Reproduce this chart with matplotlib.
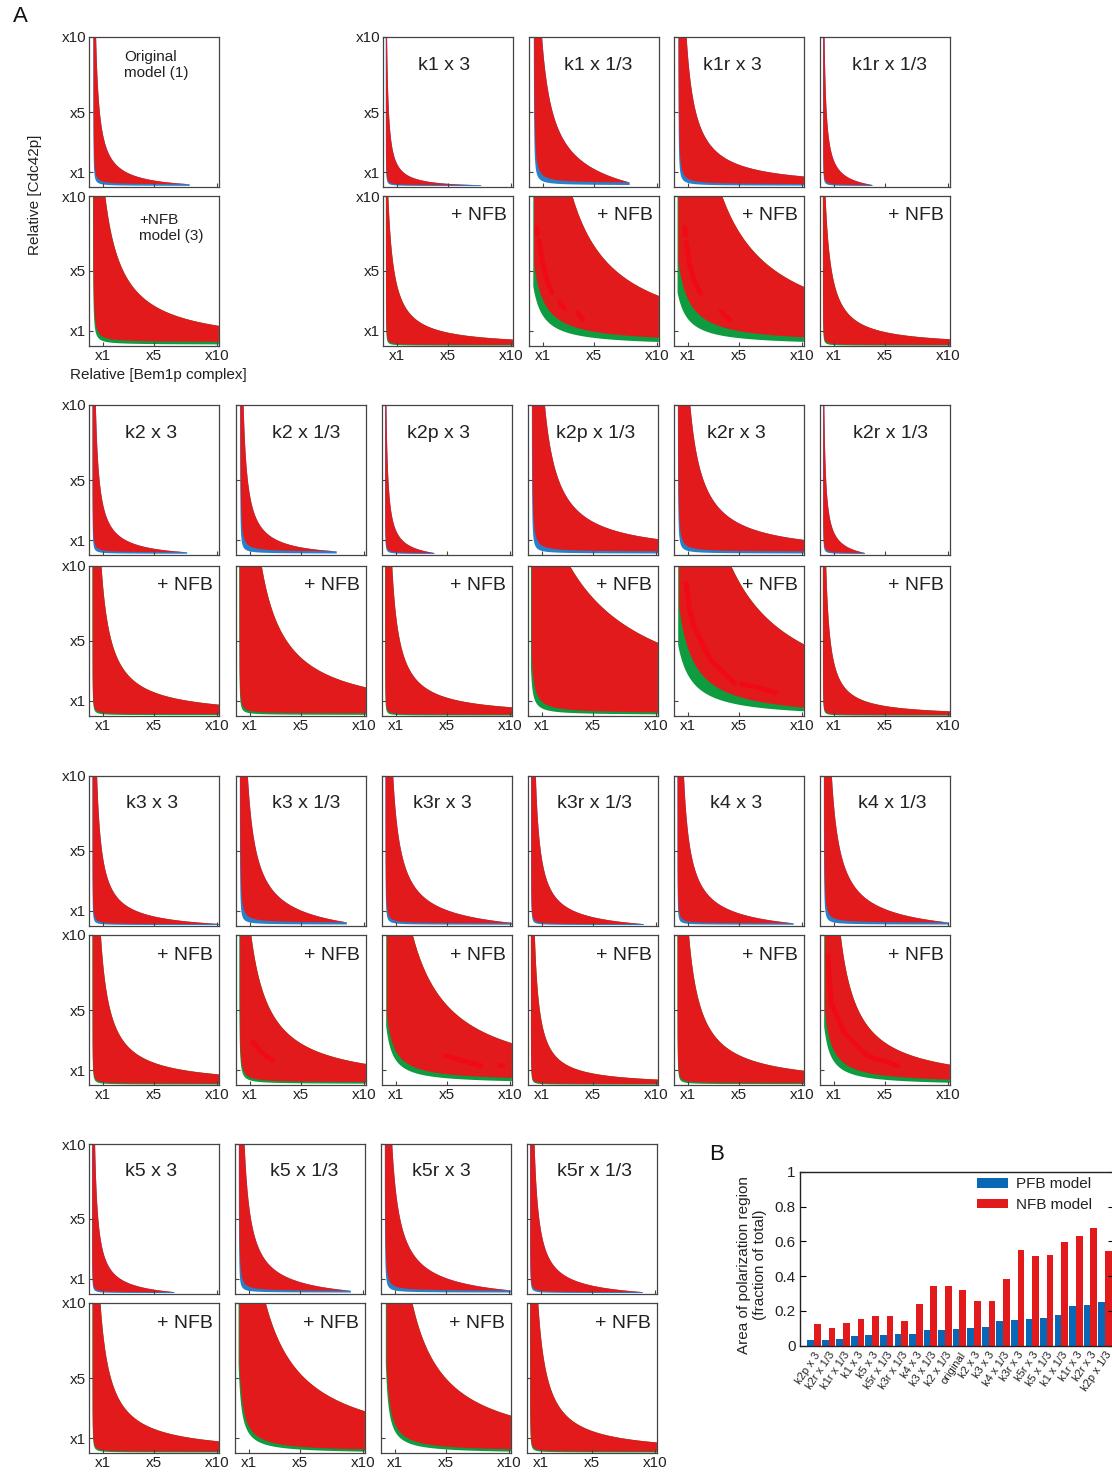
import numpy as np
import matplotlib
matplotlib.use("Agg")
import matplotlib.pyplot as plt

plt.rcParams['font.family'] = ['Liberation Sans', 'DejaVu Sans']

# ---------------- data ----------------
variants = ["original", "k1 x 3", "k1 x 1/3", "k1r x 3", "k1r x 1/3",
            "k2 x 3", "k2 x 1/3", "k2p x 3", "k2p x 1/3", "k2r x 3", "k2r x 1/3",
            "k3 x 3", "k3 x 1/3", "k3r x 3", "k3r x 1/3", "k4 x 3", "k4 x 1/3",
            "k5 x 3", "k5 x 1/3", "k5r x 3", "k5r x 1/3"]

# PFB (positive feedback) polarization regions: left edge, upper hyperbola, tail end, lower edge, blue band
pfb_x0 = [0.22, 0.10, 0.25, 0.22, 0.12, 0.15, 0.20, 0.12, 0.18, 0.18, 0.12,
          0.15, 0.18, 0.15, 0.12, 0.15, 0.18, 0.12, 0.18, 0.18, 0.12]
pfb_xu = [0.12, 0.03, 0.00, 0.12, 0.05, 0.10, 0.12, 0.05, 0.10, 0.10, 0.05,
          0.10, 0.10, 0.10, 0.08, 0.10, 0.10, 0.08, 0.10, 0.10, 0.08]
pfb_ku = [3.0, 1.5, 9.0, 7.4, 1.7, 3.0, 3.4, 1.6, 11.0, 10.5, 1.5,
          4.0, 7.0, 6.5, 4.0, 5.5, 7.0, 2.6, 5.2, 6.5, 3.8]
pfb_xe = [7.8, 7.6, 7.8, 99, 4.0, 7.6, 7.8, 4.0, 99, 99, 3.4,
          10.3, 8.6, 10.4, 9.0, 9.3, 10.0, 6.6, 9.0, 10.2, 9.0]
pfb_lo = [0.20, 0.15, 0.28, 0.20, 0.15, 0.20, 0.24, 0.15, 0.24, 0.24, 0.15,
          0.15, 0.24, 0.20, 0.15, 0.20, 0.24, 0.15, 0.22, 0.24, 0.15]
pfb_kl = [0.15, 0.06, 0.40, 0.30, 0.06, 0.12, 0.30, 0.06, 0.35, 0.30, 0.06,
          0.10, 0.30, 0.15, 0.08, 0.12, 0.25, 0.06, 0.25, 0.25, 0.08]
pfb_d = [0.03] * 21
pfb_blo = [0.10, 0.09, 0.14, 0.11, 0.09, 0.11, 0.12, 0.09, 0.12, 0.12, 0.09,
           0.09, 0.12, 0.11, 0.09, 0.11, 0.12, 0.09, 0.12, 0.12, 0.09]
pfb_bk = [0.08, 0.04, 0.20, 0.15, 0.04, 0.06, 0.12, 0.04, 0.15, 0.15, 0.04,
          0.05, 0.12, 0.08, 0.05, 0.06, 0.12, 0.04, 0.10, 0.12, 0.05]

# NFB (+ negative feedback) regions, green band
nfb_x0 = [0.20, 0.10, 0.26, 0.20, 0.10, 0.15, 0.15, 0.12, 0.15, 0.25, 0.10,
          0.15, 0.18, 0.25, 0.10, 0.15, 0.25, 0.15, 0.20, 0.30, 0.12]
nfb_xu = [-0.29, -0.2, -0.2, -0.62, -0.2, 0.05, -0.1, 0.05, -3.6, -0.98, 0.0,
          0.05, -0.46, -0.8, 0.0, 0.05, 0.1, -0.06, -0.8, -0.3, 0.0]
nfb_ku = [14.4, 4.8, 35.0, 43.0, 5.0, 8.0, 20.0, 6.2, 68.0, 53.8, 3.5,
          7.5, 15.3, 31.0, 4.0, 10.0, 14.0, 8.3, 31.0, 26.5, 7.5]
nfb_xe = [99] * 21
nfb_lo = [0.28, 0.10, 0.16, 0.15, 0.10, 0.15, 0.20, 0.12, 0.20, -0.23, 0.10,
          0.12, 0.20, 0.25, 0.10, 0.15, 0.11, 0.12, 0.09, 0.10, 0.12]
nfb_kl = [0.30, 0.06, 4.6, 5.0, 0.06, 0.08, 0.15, 0.06, 0.8, 9.14, 0.05,
          0.08, 0.30, 2.67, 0.05, 0.10, 2.91, 0.08, 1.83, 1.80, 0.08]
nfb_d = [0.05, 0.02, 0.86, 0.90, 0.02, 0.03, 0.05, 0.02, 0.20, 1.20, 0.02,
         0.03, 0.10, 0.60, 0.02, 0.03, 0.60, 0.03, 0.30, 0.30, 0.03]
nfb_blo = [0.12, 0.05, 0.00, 0.03, 0.05, 0.08, 0.10, 0.06, 0.10, -0.16, 0.05,
           0.06, 0.10, 0.09, 0.05, 0.08, -0.02, 0.06, -0.02, -0.02, 0.06]
nfb_bk = [0.20, 0.04, 3.2, 3.0, 0.04, 0.06, 0.10, 0.04, 0.45, 5.6, 0.04,
          0.06, 0.22, 2.09, 0.04, 0.07, 2.13, 0.06, 1.45, 1.45, 0.06]

# bright red traces inside some NFB regions: (variant, [(xs, ys), ...])
nfb_traces = {
    "k1 x 1/3": [([0.52, 0.56], [7.9, 7.5]),
                 ([0.70, 0.95, 1.35, 1.70], [7.0, 5.6, 4.3, 3.6]),
                 ([2.30, 2.70], [2.9, 2.5]),
                 ([3.75, 4.15], [2.2, 1.75])],
    "k1r x 3": [([0.75, 0.80], [7.9, 7.4]),
                ([0.85, 1.10, 1.50, 2.00], [6.9, 5.5, 4.3, 3.5]),
                ([3.60, 4.30], [2.3, 1.75])],
    "k2r x 3": [([0.85, 1.10, 1.48, 2.77, 4.69], [8.85, 7.2, 5.95, 3.73, 2.18]),
                ([5.2, 6.5, 7.9], [2.13, 1.9, 1.55])],
    "k3 x 1/3": [([1.24, 2.0, 2.77], [2.84, 2.1, 1.62])],
    "k3r x 3": [([4.9, 7.7], [1.95, 1.29]),
                ([9.2, 9.4], [1.30, 1.28])],
    "k4 x 1/3": [([0.52, 0.77, 1.79, 3.59, 6.02], [8.62, 5.5, 3.5, 1.95, 1.29])],
}

pfb_titles = ["Original\nmodel (1)"] + variants[1:]
nfb_titles = ["+NFB\nmodel (3)"] + ["+ NFB"] * 20
tick_vals = [1, 5, 10]
tick_text = ["x1", "x5", "x10"]

# panel B
bar_labels = ["k2p x 3", "k2r x 1/3", "k1r x 1/3", "k1 x 3", "k5 x 3", "k5r x 1/3",
              "k3r x 1/3", "k4 x 3", "k3 x 1/3", "k2 x 1/3", "original", "k2 x 3",
              "k3 x 3", "k4 x 1/3", "k3r x 3", "k5r x 3", "k5 x 1/3", "k1 x 1/3",
              "k1r x 3", "k2r x 3", "k2p x 1/3"]
pfb_area = [0.033, 0.033, 0.038, 0.057, 0.061, 0.063, 0.065, 0.067, 0.088, 0.090, 0.098,
            0.103, 0.105, 0.144, 0.148, 0.151, 0.159, 0.174, 0.226, 0.234, 0.249]
nfb_area = [0.125, 0.102, 0.130, 0.153, 0.170, 0.170, 0.142, 0.239, 0.343, 0.343, 0.320,
            0.257, 0.257, 0.383, 0.550, 0.515, 0.521, 0.596, 0.630, 0.676, 0.544]

# ---------------- style ----------------
RED = '#e31a1c'
TRACE = '#ef0a16'
BLUE = '#2a7fc9'
GREEN = '#0f9b3f'
BAR_BLUE = '#0868b5'
TXT = '#222222'
SPINE = '#444444'

W, H = 1112, 1473
fig = plt.figure(figsize=(W / 100, H / 100), dpi=100)


def ax_at(l, t, w, h):
    return fig.add_axes([l / W, 1 - (t + h) / H, w / W, h / H])


def draw_region(ax, x0, xu, ku, xe, lo, kl, d, blo, bk, band_color):
    xend = min(xe, 10.1)
    xb = np.linspace(x0 - 0.06, xend, 2000)
    U0 = ku / np.maximum(xb - xu, 1e-3)
    L = lo + kl / np.maximum(xb - x0 + d, 1e-3)
    t = np.clip((xb - x0) / (xe - x0), 0, 1)
    U = L + (U0 - L) * (1 - t ** 2)
    U = np.where(xb < x0, 12.0, U)
    U = np.minimum(U, 12.0)
    Lb = blo + bk / np.maximum(xb - x0 + d, 1e-3)
    Lb = np.minimum(Lb, 12.0)
    ax.fill_between(xb, Lb, U, where=U > Lb, color=band_color, lw=0, interpolate=True)
    m = xb >= x0
    ax.fill_between(xb[m], np.minimum(L[m], 12), U[m], where=U[m] > L[m],
                    color=RED, lw=0, interpolate=True)


def style_axes(ax, ylabels, xlabels):
    ax.set_xlim(-0.1, 10.15)
    ax.set_ylim(0, 10)
    ax.set_xticks(tick_vals)
    ax.set_yticks(tick_vals)
    ax.set_xticklabels(tick_text if xlabels else [])
    ax.set_yticklabels(tick_text if ylabels else [])
    ax.tick_params(direction='in', length=3, width=0.8, color=SPINE,
                   labelsize=11, labelcolor=TXT, pad=2)
    for s in ax.spines.values():
        s.set_color(SPINE)
        s.set_linewidth(0.9)


blocks = [
    dict(tops=(37, 196), lefts=[89, 383, 529, 674, 820], idx=[0, 1, 2, 3, 4], ycols=[0, 1],
         toff=[35, 35, 35, 29, 32]),
    dict(tops=(405, 566), lefts=[89, 236, 382, 528, 674, 820], idx=[5, 6, 7, 8, 9, 10], ycols=[0],
         toff=[36, 36, 25, 28, 33, 33]),
    dict(tops=(776, 935), lefts=[89, 236, 382, 528, 674, 820], idx=[11, 12, 13, 14, 15, 16], ycols=[0],
         toff=[37, 36, 31, 29, 36, 38]),
    dict(tops=(1144, 1303), lefts=[89, 235, 381, 527], idx=[17, 18, 19, 20], ycols=[0],
         toff=[36, 35, 31, 30]),
]
PW, PH = 130, 150

for b in blocks:
    for c, (lft, vi) in enumerate(zip(b['lefts'], b['idx'])):
        # PFB panel
        ax = ax_at(lft, b['tops'][0], PW, PH)
        draw_region(ax, pfb_x0[vi], pfb_xu[vi], pfb_ku[vi], pfb_xe[vi], pfb_lo[vi],
                    pfb_kl[vi], pfb_d[vi], pfb_blo[vi], pfb_bk[vi], BLUE)
        style_axes(ax, c in b['ycols'], False)
        if vi == 0:
            fig.text((lft + 35) / W, 1 - 65 / H, pfb_titles[vi], fontsize=11, color=TXT,
                     ha='left', va='center', linespacing=1.2)
        else:
            fig.text((lft + b['toff'][c]) / W, 1 - (b['tops'][0] + 28) / H, pfb_titles[vi],
                     fontsize=14, color=TXT, ha='left', va='center')
        # NFB panel
        ax = ax_at(lft, b['tops'][1], PW, PH)
        draw_region(ax, nfb_x0[vi], nfb_xu[vi], nfb_ku[vi], nfb_xe[vi], nfb_lo[vi],
                    nfb_kl[vi], nfb_d[vi], nfb_blo[vi], nfb_bk[vi], GREEN)
        for xs, ys in nfb_traces.get(variants[vi], []):
            ax.plot(xs, ys, color=TRACE, lw=3.6, solid_capstyle='round')
        style_axes(ax, c in b['ycols'], True)
        if vi == 0:
            fig.text((lft + 50) / W, 1 - 228 / H, nfb_titles[vi], fontsize=11, color=TXT,
                     ha='left', va='center', linespacing=1.2)
        else:
            fig.text((lft + PW - 6) / W, 1 - (b['tops'][1] + 20) / H, nfb_titles[vi],
                     fontsize=14, color=TXT, ha='right', va='center')

fig.text(35 / W, 1 - 195 / H, "Relative [Cdc42p]", rotation=90, fontsize=11,
         color=TXT, ha='center', va='center')
fig.text(158 / W, 1 - 375 / H, "Relative [Bem1p complex]", fontsize=11,
         color=TXT, ha='center', va='center')
fig.text(20 / W, 1 - 16 / H, "A", fontsize=16, color='#111111', ha='center', va='center')
fig.text(717 / W, 1 - 1155 / H, "B", fontsize=16, color='#111111', ha='center', va='center')

# ---------------- panel B ----------------
axb = ax_at(800, 1171.7, 314, 174)
xi = np.arange(len(bar_labels))
bw = 0.46
axb.bar(xi - 0.23, pfb_area, width=bw, color=BAR_BLUE, lw=0, label='PFB model')
axb.bar(xi + 0.23, nfb_area, width=bw, color=RED, lw=0, label='NFB model')
axb.set_xlim(-0.96, 20.62)
axb.set_ylim(0, 1)
axb.set_yticks([0, 0.2, 0.4, 0.6, 0.8, 1.0])
axb.set_yticklabels(["0", "0.2", "0.4", "0.6", "0.8", "1"])
axb.set_xticks(xi)
axb.set_xticklabels(bar_labels, rotation=56, ha='right', rotation_mode='anchor', fontsize=8,
                    color=TXT)
axb.tick_params(axis='x', which='major', length=0, pad=3)
axb.set_xticks([4, 9, 14, 19], minor=True)
axb.tick_params(axis='x', which='minor', direction='in', length=4, top=True, bottom=True)
axb.tick_params(axis='y', direction='in', length=4, right=True, labelsize=11,
                labelcolor=TXT, pad=3)
for s in axb.spines.values():
    s.set_color('#222222')
    s.set_linewidth(1.0)
leg = axb.legend(loc='upper left', bbox_to_anchor=(0.555, 0.985), frameon=False,
                 fontsize=11, handlelength=2.0, handleheight=0.55, handletextpad=0.5,
                 labelspacing=0.45, borderaxespad=0, borderpad=0.2)
for t in leg.get_texts():
    t.set_color(TXT)
fig.text(752 / W, 1 - 1265 / H, "Area of polarization region\n(fraction of total)",
         rotation=90, fontsize=11, color=TXT, ha='center', va='center', linespacing=1.1)

fig.savefig("out.png", dpi=100)
